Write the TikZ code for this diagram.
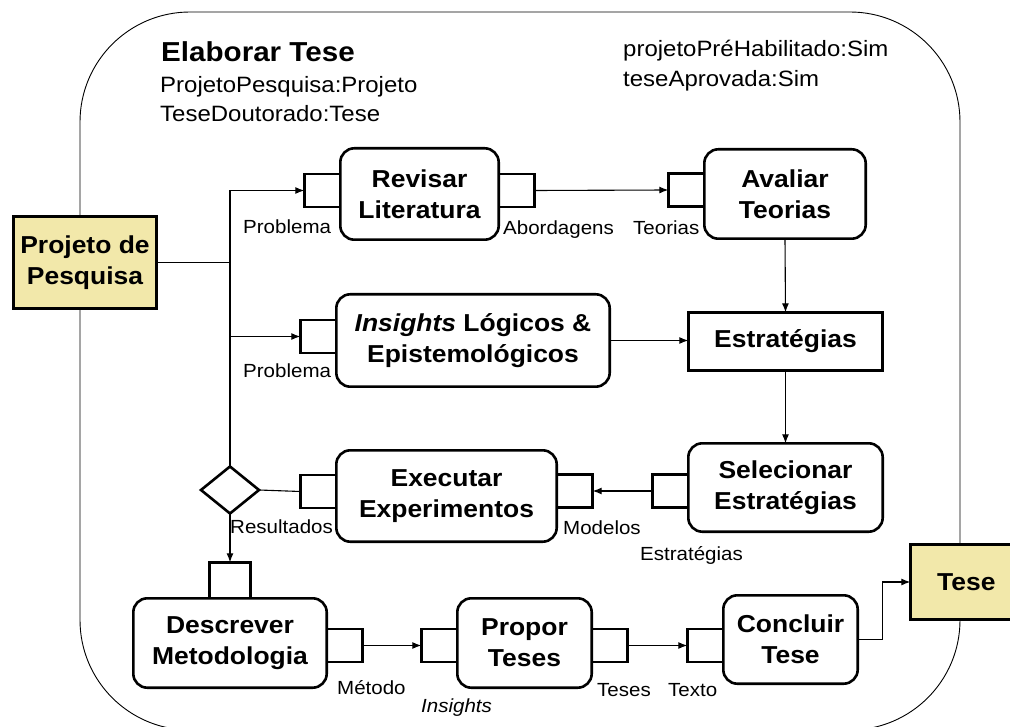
\documentclass[tikz,border=0pt]{standalone}
\usepackage{fontspec}
\setmainfont{Liberation Sans}[FakeStretch=1.08]
\usetikzlibrary{arrows.meta,shapes.geometric}
\definecolor{artefato}{RGB}{242,232,170}
\newcommand\dgactfont{\fontsize{24.5}{31}\selectfont\bfseries}
\newcommand\dglblfont{\fontsize{19}{22}\selectfont}
\newcommand\dghdrfont{\fontsize{22.2}{29}\selectfont}
\newcommand\dgttlfont{\fontsize{27.4}{33}\selectfont\bfseries}
\begin{document}
\begin{tikzpicture}[x=1pt,y=-1pt,
  conn/.style={line width=1.1pt, draw=black},
  arr/.style={conn, -{Latex[length=9pt,width=7pt]}},
  act/.style={draw, line width=2.6pt, rounded corners=14pt, fill=white,
    align=center, font=\dgactfont, inner sep=0pt, outer sep=0pt},
  plainbox/.style={draw, line width=2.6pt, fill=white,
    align=center, font=\dgactfont, inner sep=0pt, outer sep=0pt},
  port/.style={draw, line width=2.6pt, fill=white, minimum width=36pt,
    minimum height=33pt, inner sep=0pt, outer sep=0pt},
  artefact/.style={draw, line width=2.6pt, fill=artefato,
    align=center, font=\dgactfont, inner sep=0pt, outer sep=0pt},
  lbl/.style={anchor=base west, inner sep=0pt, font=\dglblfont},
  hdr/.style={anchor=base west, inner sep=0pt, font=\dghdrfont}]

\useasboundingbox (0,0) rectangle (1010,727);
\clip (0,0) rectangle (1010,727);

% process frame
\draw[line width=0.9pt, rounded corners=110pt] (80,12) rectangle (960,730);

% header
\node[anchor=base west, inner sep=0pt, font=\dgttlfont] (titulo) at (161,62) {Elaborar Tese};
\node[hdr] (hdrA) at (160,93) {ProjetoPesquisa:Projeto};
\node[hdr] (hdrB) at (160,122) {TeseDoutorado:Tese};
\node[hdr] (hdrC) at (623,57) {projetoPréHabilitado:Sim};
\node[hdr] (hdrD) at (623,87) {teseAprovada:Sim};

% ports (drawn before their activities)
\node[port] (revin)  at (322.3,190.5) {};
\node[port] (revout) at (516.7,190.5) {};
\node[port] (avin)   at (686.3,190) {};
\node[port] (insin)  at (318.3,336.5) {};
\node[port] (selout) at (670.3,491) {};
\node[port] (exein)  at (318.3,491.5) {};
\node[port] (exeout) at (574.7,491) {};
\node[port, minimum width=41pt, minimum height=36pt] (desin) at (230,580.3) {};
\node[port] (desout) at (344.7,645.5) {};
\node[port] (proin)  at (439.3,645.5) {};
\node[port] (proout) at (609.7,645.5) {};
\node[port] (conin)  at (705.3,645.5) {};

% activities
\node[act, minimum width=158.4pt, minimum height=91.4pt] (rev) at (419.5,194) {Revisar\\Literatura};
\node[act, minimum width=161.4pt, minimum height=89.4pt] (ava) at (785,194) {Avaliar\\Teorias};
\node[act, minimum width=273.4pt, minimum height=92.4pt] (ins) at (473,340.5) {\textit{Insights} Lógicos \&\\Epistemológicos};
\node[plainbox, minimum width=194.4pt, minimum height=58.4pt] (est) at (785.5,341.5) {Estratégias};
\node[act, minimum width=194.4pt, minimum height=88.4pt] (sel) at (785.5,487.5) {Selecionar\\Estratégias};
\node[act, minimum width=220.4pt, minimum height=91.4pt] (exe) at (446.5,496) {Executar\\Experimentos};
\node[act, minimum width=193.4pt, minimum height=89.4pt] (des) at (230,643) {Descrever\\Metodologia};
\node[act, minimum width=134.4pt, minimum height=89.4pt] (pro) at (524.5,643) {Propor\\Teses};
\node[act, minimum width=134.4pt, minimum height=88.4pt] (con) at (790.5,639.5) {Concluir\\Tese};

% decision
\node[draw, diamond, line width=2.6pt, fill=white, inner sep=0pt, outer sep=0pt,
  minimum width=58pt, minimum height=47pt] (dec) at (230,490) {};

% artefacts
\node[artefact, minimum width=143.4pt, minimum height=92.4pt] (pp) at (85,262.5) {Projeto de\\Pesquisa};
\node[artefact, minimum width=112pt, minimum height=75.4pt] (tese) at (966.3,582) {Tese};

% branch points on the input line
\coordinate (jt) at (230,190.5);
\coordinate (jm) at (230,336.5);

% connectors
\draw[conn] (pp.east) -- (pp.east -| jt);
\draw[conn] (jt) -- (dec.north);
\draw[arr] (jt) -- (revin.west);
\draw[arr] (jm) -- (insin.west);
\draw[arr] (revout.east) -- (avin.west);
\draw[arr] (ava.south) -- (est.north);
\draw[arr] (ins.east) -- (ins.east -| est.west);
\draw[arr] (est.south) -- (sel.north);
\draw[arr] (selout.west) -- (exeout.east);
\draw[conn] (exein.west) -- (dec.east);
\draw[arr] (dec.south) -- (desin.north);
\draw[arr] (desout.east) -- (proin.west);
\draw[arr] (proout.east) -- (conin.west);
\draw[arr] (con.east) -- ++(25,0) |- (tese.west);

% port labels
\node[lbl] (lProb1) at (243,234) {Problema};
\node[lbl] (lAbord) at (503,235) {Abordagens};
\node[lbl] (lTeor)  at (633,235) {Teorias};
\node[lbl] (lProb2) at (243,378) {Problema};
\node[lbl] (lRes)   at (230,533) {Resultados};
\node[lbl] (lMod)   at (563,534) {Modelos};
\node[lbl] (lEst)   at (640,560) {Estratégias};
\node[lbl] (lMet)   at (337,694) {Método};
\node[lbl] (lIns)   at (421,712) {\textit{Insights}};
\node[lbl] (lTeses) at (597,696) {Teses};
\node[lbl] (lTexto) at (668,696) {Texto};
\end{tikzpicture}
\end{document}
